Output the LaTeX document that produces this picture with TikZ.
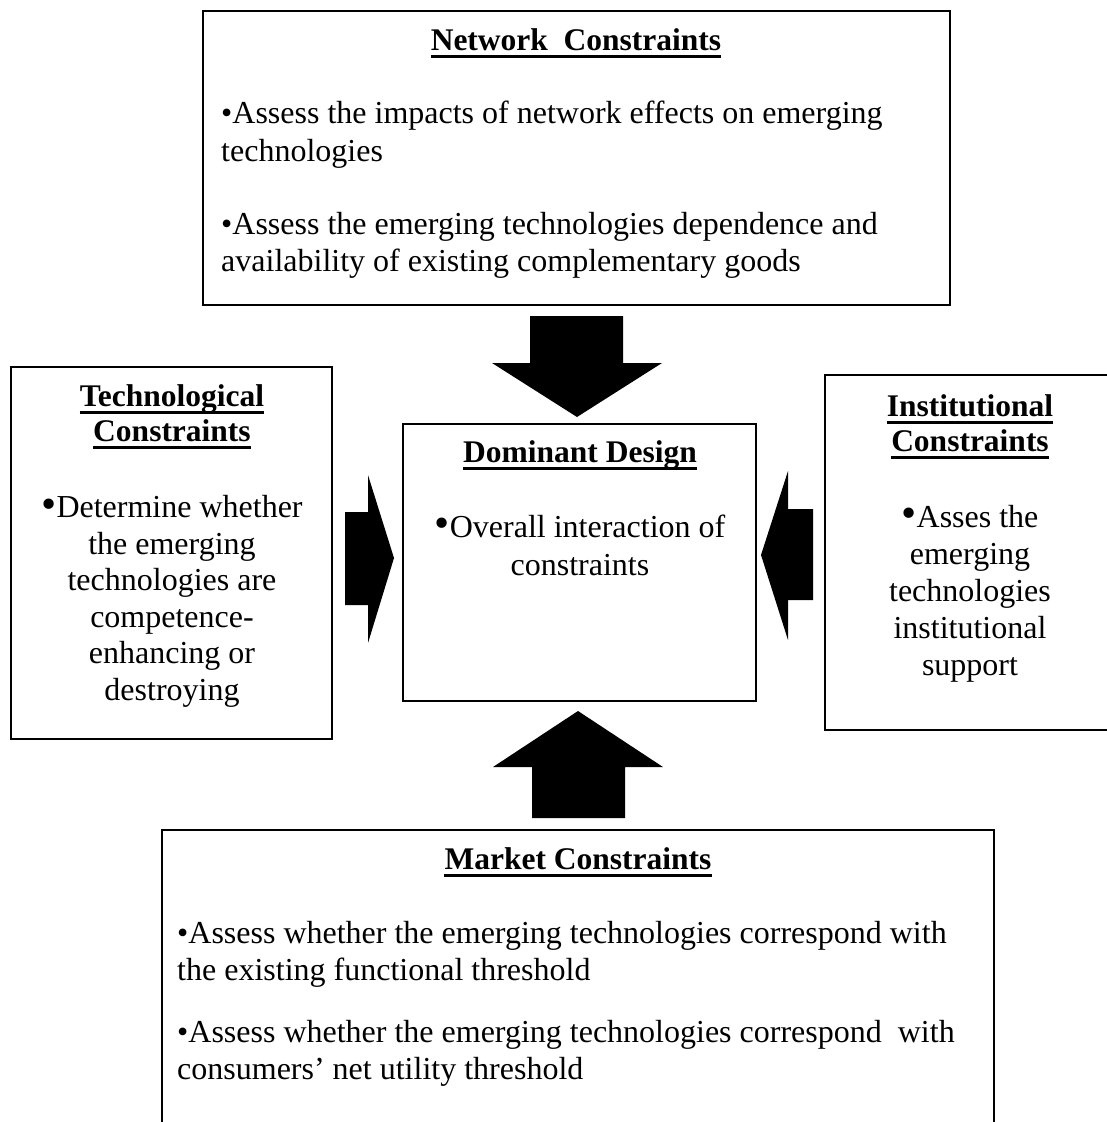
\documentclass[tikz,border=0pt]{standalone}
\usepackage{fontspec}
\setmainfont{Liberation Serif}
\newcommand{\bbul}{\raisebox{-0.02em}{\scalebox{1.35}{•}}}
\begin{document}
\begin{tikzpicture}[x=1pt,y=-1pt,
  box/.style={draw, line width=1.6pt, inner sep=0, rectangle},
  blockarrow/.style={fill=black, draw=none},
  ttl/.style={inner sep=0, anchor=base, font=\bfseries\fontsize{31.5}{36}\selectfont},
  txt/.style={inner sep=0, font=\fontsize{32}{36.5}\selectfont},
  uline/.style={line width=3pt}]
\useasboundingbox (0,0) rectangle (1107,1122);
% boxes
\node[box, minimum width=747pt, minimum height=294pt] (net) at (576.5,158) {};
\node[box, minimum width=321pt, minimum height=372pt] (tech) at (171.5,553) {};
\node[box, minimum width=353pt, minimum height=277pt] (dom) at (579.5,562.5) {};
\node[box, minimum width=290pt, minimum height=355pt] (inst) at (970,552.5) {};
\node[box, minimum width=832pt, minimum height=310pt] (mkt) at (578,985) {};
% titles
\node[ttl] (net-t) at (576,50) {Network\ \ Constraints};
\node[ttl] (tech-t1) at (172,406) {Technological};
\node[ttl] (tech-t2) at (172,441) {Constraints};
\node[ttl] (dom-t) at (580,462) {Dominant Design};
\node[ttl] (inst-t1) at (970,416) {Institutional};
\node[ttl] (inst-t2) at (970,451) {Constraints};
\node[ttl] (mkt-t) at (578,869) {Market Constraints};
\foreach \n in {net-t,tech-t1,tech-t2,dom-t,inst-t1,inst-t2,mkt-t}
  \draw[uline] ([yshift=-6pt]\n.base west) -- ([yshift=-6pt]\n.base east);
% body texts (anchor = baseline of the last line)
\node[txt, align=left, anchor=base west, font=\fontsize{32}{38}\selectfont] (net-b1) at (221,161)
  {•Assess the impacts of network effects on emerging\\technologies};
\node[txt, align=left, anchor=base west, font=\fontsize{32}{37}\selectfont] (net-b2) at (221,271)
  {•Assess the emerging technologies dependence and\\availability of existing complementary goods};
\node[txt, align=center, anchor=base] (tech-b) at (172,700)
  {\bbul Determine whether\\the emerging\\technologies are\\competence-\\enhancing or\\destroying};
\node[txt, align=center, anchor=base, font=\fontsize{32}{38}\selectfont] (dom-b) at (580,575)
  {\bbul Overall interaction of\\constraints};
\node[txt, align=center, anchor=base, font=\fontsize{32}{37}\selectfont] (inst-b) at (970,675)
  {\bbul Asses the\\emerging\\technologies\\institutional\\support};
\node[txt, align=left, anchor=base west] (mkt-b1) at (177,980)
  {•Assess whether the emerging technologies correspond with\\the existing functional threshold};
\node[txt, align=left, anchor=base west] (mkt-b2) at (177,1079)
  {•Assess whether the emerging technologies correspond\ \ with\\consumers’ net utility threshold};
% block arrows
\fill[blockarrow] (530,316) -- (623,316) -- (623,363) -- (662,363) -- (577,417) -- (492,363) -- (530,363) -- cycle;
\fill[blockarrow] (345,512) -- (368,512) -- (368,475) -- (394,558) -- (368,643) -- (368,605) -- (345,605) -- cycle;
\fill[blockarrow] (813,509) -- (788,509) -- (788,471) -- (761,555) -- (788,640) -- (788,600) -- (813,600) -- cycle;
\fill[blockarrow] (532,818) -- (532,767) -- (493,767) -- (578,711) -- (663,767) -- (625,767) -- (625,818) -- cycle;
\end{tikzpicture}
\end{document}
